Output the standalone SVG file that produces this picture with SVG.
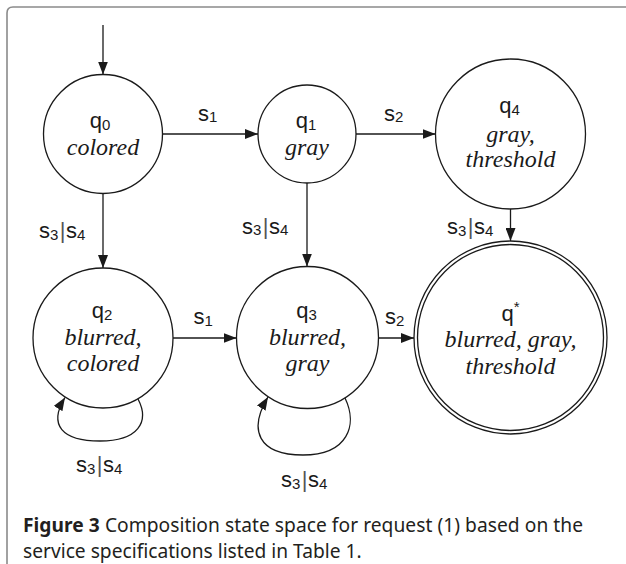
<svg xmlns="http://www.w3.org/2000/svg" width="626" height="564" viewBox="0 0 626 564">
  <style>
    .state { fill: #fff; stroke: #1a1a1a; stroke-width: 1.3; }
    .edge { fill: none; stroke: #1a1a1a; stroke-width: 1.3; marker-end: url(#arrow); }
    .nm { font-family: "Liberation Sans", Arial, sans-serif; font-size: 22px; fill: #1a1a1a; }
    .sub { font-size: 15px; }
    .bar { fill: #555; }
    .it { font-family: "Liberation Serif", "Times New Roman", serif; font-style: italic; font-size: 24px; fill: #1a1a1a; }
    .cap { font-family: "Noto Sans", "Open Sans", sans-serif; font-size: 19.2px; fill: #231f20; }
    .frame { fill: none; stroke: #8a8a8a; stroke-width: 1.6; }
  </style>
  <defs>
    <marker id="arrow" markerUnits="userSpaceOnUse" viewBox="0 0 13 10" refX="13" refY="5" markerWidth="13" markerHeight="10" orient="auto">
      <path d="M0,0 L13,5 L0,10 z" fill="#1a1a1a"/>
    </marker>
  </defs>

  <!-- panel frame -->
  <path class="frame" d="M7,564 V13 Q7,7 13,7 H626"/>

  <!-- transitions -->
  <g id="edges">
    <line class="edge" x1="103" y1="25" x2="103" y2="74.5"/>
    <line class="edge" x1="162.5" y1="134" x2="258" y2="134"/>
    <line class="edge" x1="356" y1="134" x2="435.5" y2="134"/>
    <line class="edge" x1="103" y1="193.5" x2="103" y2="268"/>
    <line class="edge" x1="307" y1="183" x2="307" y2="266.5"/>
    <line class="edge" x1="510.5" y1="209" x2="510.5" y2="241"/>
    <line class="edge" x1="173" y1="338" x2="236.5" y2="338"/>
    <line class="edge" x1="378.5" y1="338" x2="414" y2="338"/>
    <path class="edge" d="M138,399 C150,422 138,441 100,441 C62,441 48,425 65,397.5"/>
    <path class="edge" d="M345,398 C358,425 348,455 303,455 C258,455 248,430 268,397"/>

    <text class="nm" x="198" y="120.5">s<tspan class="sub" dy="1.5">1</tspan></text>
    <text class="nm" x="384" y="120.5">s<tspan class="sub" dy="1.5">2</tspan></text>
    <text class="nm" x="193.5" y="324">s<tspan class="sub" dy="1.5">1</tspan></text>
    <text class="nm" x="385" y="324">s<tspan class="sub" dy="1.5">2</tspan></text>

    <text class="nm" x="39" y="238">s<tspan class="sub" dy="1.5">3</tspan><tspan class="bar" dy="-1.5" dx="1.5">|</tspan><tspan dx="0.5">s</tspan><tspan class="sub" dy="1.5">4</tspan></text>
    <text class="nm" x="242" y="233.5">s<tspan class="sub" dy="1.5">3</tspan><tspan class="bar" dy="-1.5" dx="1.5">|</tspan><tspan dx="0.5">s</tspan><tspan class="sub" dy="1.5">4</tspan></text>
    <text class="nm" x="447" y="234">s<tspan class="sub" dy="1.5">3</tspan><tspan class="bar" dy="-1.5" dx="1.5">|</tspan><tspan dx="0.5">s</tspan><tspan class="sub" dy="1.5">4</tspan></text>
    <text class="nm" x="76" y="472">s<tspan class="sub" dy="1.5">3</tspan><tspan class="bar" dy="-1.5" dx="1.5">|</tspan><tspan dx="0.5">s</tspan><tspan class="sub" dy="1.5">4</tspan></text>
    <text class="nm" x="281" y="487">s<tspan class="sub" dy="1.5">3</tspan><tspan class="bar" dy="-1.5" dx="1.5">|</tspan><tspan dx="0.5">s</tspan><tspan class="sub" dy="1.5">4</tspan></text>
  </g>

  <!-- states -->
  <g id="q0">
    <circle class="state" cx="103" cy="134" r="59.5"/>
    <text class="nm" x="100" y="128" text-anchor="middle">q<tspan class="sub" dy="1.5">0</tspan></text>
    <text class="it" x="103" y="154.5" text-anchor="middle">colored</text>
  </g>
  <g id="q1">
    <circle class="state" cx="307" cy="134" r="49"/>
    <text class="nm" x="306" y="128" text-anchor="middle">q<tspan class="sub" dy="1.5">1</tspan></text>
    <text class="it" x="307" y="154.5" text-anchor="middle">gray</text>
  </g>
  <g id="q4">
    <circle class="state" cx="510.5" cy="134" r="75"/>
    <text class="nm" x="509.5" y="113" text-anchor="middle">q<tspan class="sub" dy="1.5">4</tspan></text>
    <text class="it" x="510.5" y="141.5" text-anchor="middle">gray,</text>
    <text class="it" x="510.5" y="166.5" text-anchor="middle">threshold</text>
  </g>
  <g id="q2">
    <circle class="state" cx="103" cy="338" r="70"/>
    <text class="nm" x="102" y="318" text-anchor="middle">q<tspan class="sub" dy="1.5">2</tspan></text>
    <text class="it" x="103" y="345" text-anchor="middle">blurred,</text>
    <text class="it" x="103" y="370.5" text-anchor="middle">colored</text>
  </g>
  <g id="q3">
    <circle class="state" cx="307.5" cy="337.5" r="71"/>
    <text class="nm" x="306.5" y="318" text-anchor="middle">q<tspan class="sub" dy="1.5">3</tspan></text>
    <text class="it" x="307.5" y="345" text-anchor="middle">blurred,</text>
    <text class="it" x="307.5" y="370.5" text-anchor="middle">gray</text>
  </g>
  <g id="qstar">
    <circle class="state" cx="510.5" cy="337.5" r="96.5"/>
    <circle class="state" cx="510.5" cy="337.5" r="93"/>
    <text class="nm" x="510.5" y="320.5" text-anchor="middle">q<tspan class="sub" dy="-9">*</tspan></text>
    <text class="it" x="510.5" y="346.5" text-anchor="middle">blurred, gray,</text>
    <text class="it" x="510.5" y="374" text-anchor="middle">threshold</text>
  </g>

  <!-- caption -->
  <g id="caption">
    <text class="cap" x="23" y="532" textLength="560" lengthAdjust="spacing"><tspan font-weight="bold">Figure 3</tspan> Composition state space for request (1) based on the</text>
    <text class="cap" x="23" y="558.3">service specifications listed in Table 1.</text>
  </g>
</svg>
